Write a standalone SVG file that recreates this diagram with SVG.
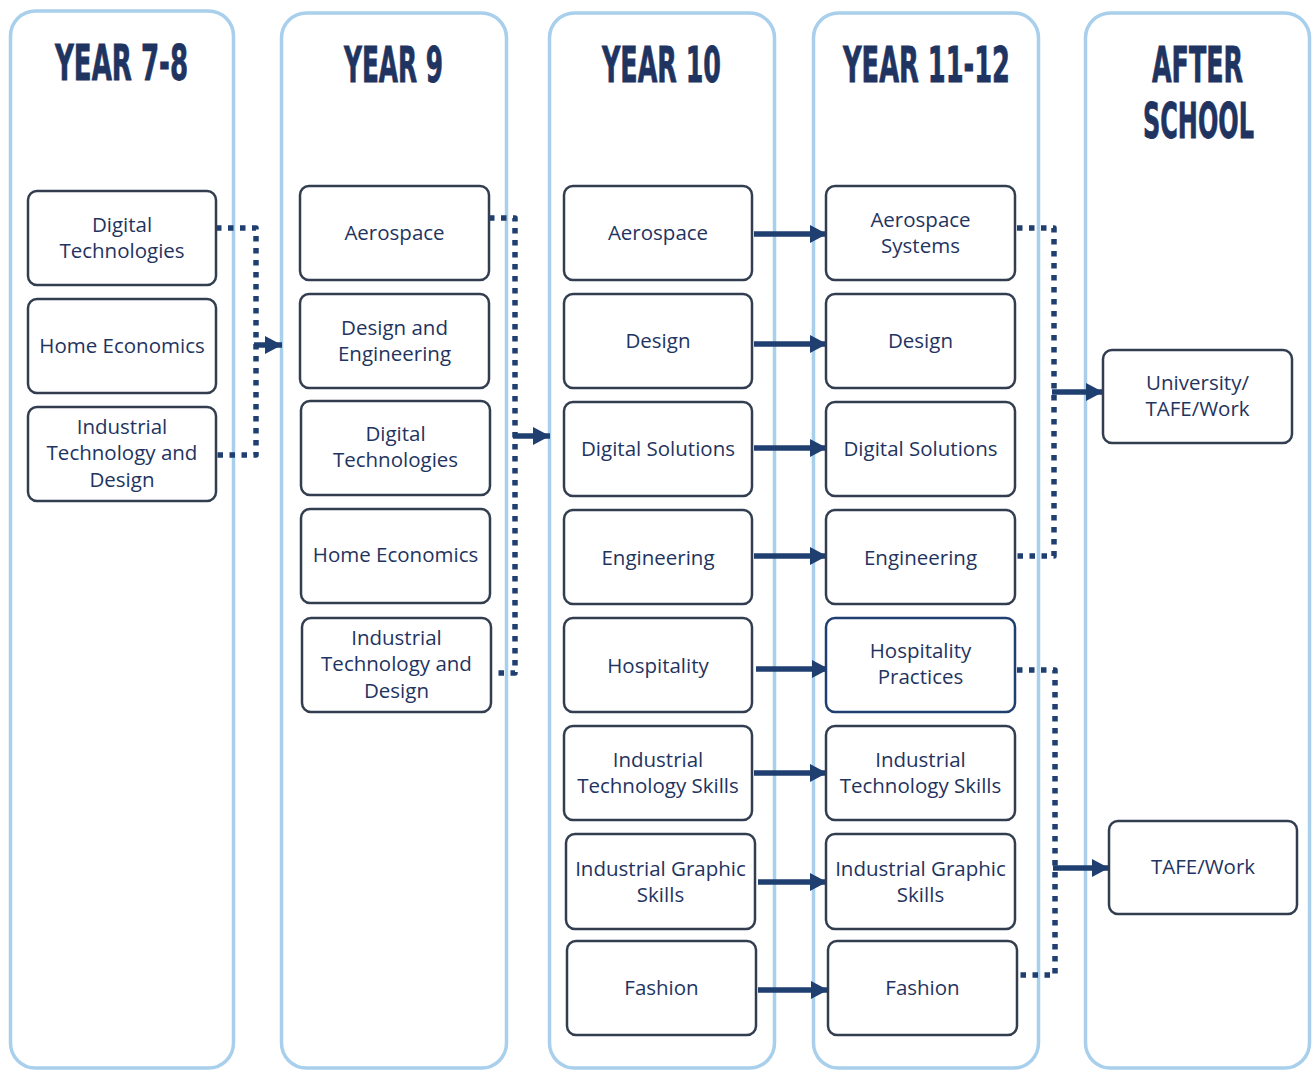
<svg xmlns="http://www.w3.org/2000/svg" width="1314" height="1070" viewBox="0 0 1314 1070">
<defs>
<style>
.col{fill:#fff;stroke:#A8CFEC;stroke-width:3.5}
.hd{font-family:"Liberation Sans Narrow","DejaVu Sans Condensed","Liberation Sans",sans-serif;font-weight:bold;font-size:50px;fill:#1F3460;stroke:#1F3460;stroke-width:0.8;text-anchor:middle}
.box{fill:#fff;stroke:#323E50;stroke-width:2.5}
.boxb{fill:#fff;stroke:#1F3F70;stroke-width:2.5}
.t{font-family:"Open Sans","Noto Sans","Liberation Sans",sans-serif;font-size:20.5px;fill:#1F3460;text-anchor:middle}
.sol{fill:none;stroke:#1F3F70;stroke-width:5.5}
.dot{fill:none;stroke:#1F3F70;stroke-width:5.5;stroke-dasharray:5.5 6.5;stroke-linejoin:round}
</style>
<marker id="ah" markerUnits="userSpaceOnUse" markerWidth="17" markerHeight="18" refX="17" refY="9" orient="auto">
<path d="M0,0 L17,9 L0,18 z" fill="#1F3F70"/>
</marker>
</defs>
<rect width="1314" height="1070" fill="#fff"/>

<g id="columns">
<rect class="col" x="10.5" y="11" width="223" height="1057" rx="25"/>
<rect class="col" x="281.5" y="13" width="225" height="1055" rx="25"/>
<rect class="col" x="549.5" y="13" width="225" height="1055" rx="25"/>
<rect class="col" x="813.5" y="13" width="225" height="1055" rx="25"/>
<rect class="col" x="1085.5" y="13" width="224" height="1055" rx="25"/>
</g>

<g id="headers">
<text class="hd" x="121.5" y="80" textLength="133" lengthAdjust="spacingAndGlyphs">YEAR 7-8</text>
<text class="hd" x="393.5" y="82" textLength="99" lengthAdjust="spacingAndGlyphs">YEAR 9</text>
<text class="hd" x="661.5" y="82" textLength="119" lengthAdjust="spacingAndGlyphs">YEAR 10</text>
<text class="hd" x="926.5" y="82" textLength="167" lengthAdjust="spacingAndGlyphs">YEAR 11-12</text>
<text class="hd" x="1197.5" y="82" textLength="91" lengthAdjust="spacingAndGlyphs">AFTER</text>
<text class="hd" x="1198.5" y="138" textLength="111" lengthAdjust="spacingAndGlyphs">SCHOOL</text>
</g>

<g id="connectors">
<path class="dot" d="M216,228 H256 V455 H216"/>
<line class="sol" x1="254" y1="345" x2="282" y2="345" marker-end="url(#ah)"/>
<path class="dot" d="M489,218 H515 V673 H491"/>
<line class="sol" x1="513" y1="436" x2="550" y2="436" marker-end="url(#ah)"/>
<line class="sol" x1="754" y1="234" x2="827" y2="234" marker-end="url(#ah)"/>
<line class="sol" x1="754" y1="344" x2="827" y2="344" marker-end="url(#ah)"/>
<line class="sol" x1="754" y1="448" x2="827" y2="448" marker-end="url(#ah)"/>
<line class="sol" x1="754" y1="556" x2="827" y2="556" marker-end="url(#ah)"/>
<line class="sol" x1="756" y1="669" x2="829" y2="669" marker-end="url(#ah)"/>
<line class="sol" x1="754" y1="773" x2="827" y2="773" marker-end="url(#ah)"/>
<line class="sol" x1="758" y1="882" x2="827" y2="882" marker-end="url(#ah)"/>
<line class="sol" x1="758" y1="990" x2="828" y2="990" marker-end="url(#ah)"/>
<path class="dot" d="M1017,228 H1054 V556 H1017"/>
<line class="sol" x1="1052" y1="392" x2="1103" y2="392" marker-end="url(#ah)"/>
<path class="dot" d="M1017,670 H1055 V975 H1019"/>
<line class="sol" x1="1053" y1="868" x2="1109" y2="868" marker-end="url(#ah)"/>
</g>

<g id="y78-digital"><rect class="box" x="28" y="191" width="188" height="94" rx="9"/><text class="t" x="122" y="232">Digital</text><text class="t" x="122" y="258">Technologies</text></g>
<g id="y78-home"><rect class="box" x="28" y="299" width="188" height="94" rx="9"/><text class="t" x="122" y="353">Home Economics</text></g>
<g id="y78-itd"><rect class="box" x="28" y="407" width="188" height="94" rx="9"/><text class="t" x="122" y="434">Industrial</text><text class="t" x="122" y="460">Technology and</text><text class="t" x="122" y="487">Design</text></g>

<g id="y9-aero"><rect class="box" x="300" y="186" width="189" height="94" rx="9"/><text class="t" x="394.5" y="240">Aerospace</text></g>
<g id="y9-de"><rect class="box" x="300" y="294" width="189" height="94" rx="9"/><text class="t" x="394.5" y="335">Design and</text><text class="t" x="394.5" y="361">Engineering</text></g>
<g id="y9-digital"><rect class="box" x="301" y="401" width="189" height="94" rx="9"/><text class="t" x="395.5" y="441">Digital</text><text class="t" x="395.5" y="467">Technologies</text></g>
<g id="y9-home"><rect class="box" x="301" y="509" width="189" height="94" rx="9"/><text class="t" x="395.5" y="562">Home Economics</text></g>
<g id="y9-itd"><rect class="box" x="302" y="618" width="189" height="94" rx="9"/><text class="t" x="396.5" y="645">Industrial</text><text class="t" x="396.5" y="671">Technology and</text><text class="t" x="396.5" y="698">Design</text></g>

<g id="y10-aero"><rect class="box" x="564" y="186" width="188" height="94" rx="9"/><text class="t" x="658" y="240">Aerospace</text></g>
<g id="y10-design"><rect class="box" x="564" y="294" width="188" height="94" rx="9"/><text class="t" x="658" y="348">Design</text></g>
<g id="y10-digsol"><rect class="box" x="564" y="402" width="188" height="94" rx="9"/><text class="t" x="658" y="456">Digital Solutions</text></g>
<g id="y10-eng"><rect class="box" x="564" y="510" width="188" height="94" rx="9"/><text class="t" x="658" y="565">Engineering</text></g>
<g id="y10-hosp"><rect class="box" x="564" y="618" width="188" height="94" rx="9"/><text class="t" x="658" y="673">Hospitality</text></g>
<g id="y10-its"><rect class="box" x="564" y="726" width="188" height="94" rx="9"/><text class="t" x="658" y="767">Industrial</text><text class="t" x="658" y="793">Technology Skills</text></g>
<g id="y10-igs"><rect class="box" x="566" y="834" width="189" height="95" rx="9"/><text class="t" x="660.5" y="876">Industrial Graphic</text><text class="t" x="660.5" y="902">Skills</text></g>
<g id="y10-fashion"><rect class="box" x="567" y="941" width="189" height="94" rx="9"/><text class="t" x="661.5" y="995">Fashion</text></g>

<g id="y11-aero"><rect class="box" x="826" y="186" width="189" height="94" rx="9"/><text class="t" x="920.5" y="227">Aerospace</text><text class="t" x="920.5" y="253">Systems</text></g>
<g id="y11-design"><rect class="box" x="826" y="294" width="189" height="94" rx="9"/><text class="t" x="920.5" y="348">Design</text></g>
<g id="y11-digsol"><rect class="box" x="826" y="402" width="189" height="94" rx="9"/><text class="t" x="920.5" y="456">Digital Solutions</text></g>
<g id="y11-eng"><rect class="box" x="826" y="510" width="189" height="94" rx="9"/><text class="t" x="920.5" y="565">Engineering</text></g>
<g id="y11-hosp"><rect class="boxb" x="826" y="618" width="189" height="94" rx="9"/><text class="t" x="920.5" y="658">Hospitality</text><text class="t" x="920.5" y="684">Practices</text></g>
<g id="y11-its"><rect class="box" x="826" y="726" width="189" height="94" rx="9"/><text class="t" x="920.5" y="767">Industrial</text><text class="t" x="920.5" y="793">Technology Skills</text></g>
<g id="y11-igs"><rect class="box" x="826" y="834" width="189" height="95" rx="9"/><text class="t" x="920.5" y="876">Industrial Graphic</text><text class="t" x="920.5" y="902">Skills</text></g>
<g id="y11-fashion"><rect class="box" x="828" y="941" width="189" height="94" rx="9"/><text class="t" x="922.5" y="995">Fashion</text></g>

<g id="after-uni"><rect class="box" x="1103" y="350" width="189" height="93" rx="9"/><text class="t" x="1197.5" y="390">University/</text><text class="t" x="1197.5" y="416">TAFE/Work</text></g>
<g id="after-tafe"><rect class="box" x="1109" y="821" width="188" height="93" rx="9"/><text class="t" x="1203" y="874">TAFE/Work</text></g>
</svg>
